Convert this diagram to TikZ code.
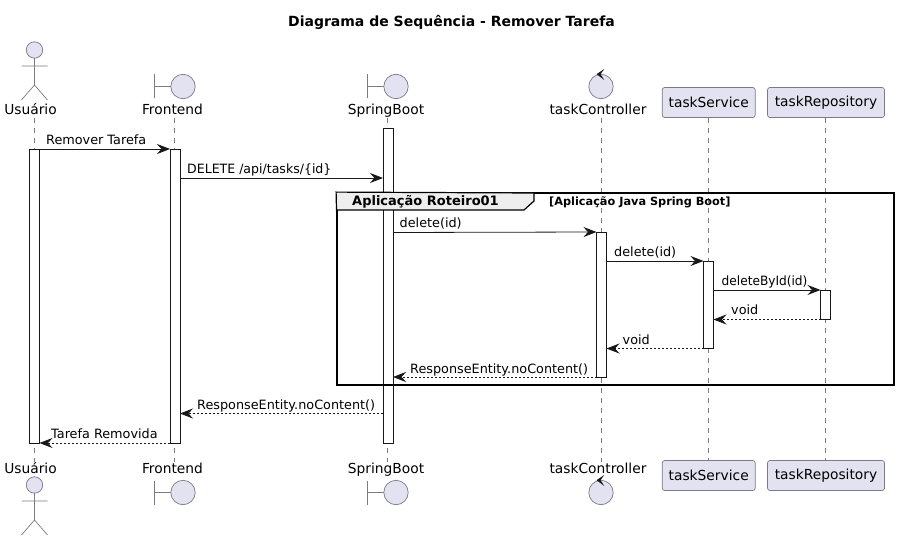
\documentclass[tikz,border=0pt]{standalone}
\usepackage{fontspec}
\setmainfont{DejaVu Sans}
\usetikzlibrary{arrows.meta,positioning}
\definecolor{partfill}{HTML}{E2E2F0}
\definecolor{partline}{HTML}{7B7B85}
\definecolor{ink}{HTML}{181818}
\definecolor{tabfill}{HTML}{EEEEEE}

\begin{document}
\begin{tikzpicture}[
  x=1pt, y=-1pt,
  lbl/.style={anchor=base, inner sep=0pt, outer sep=0pt, text depth=3pt, text height=11pt, font=\fontsize{13.8}{16}\selectfont, text=black},
  msglbl/.style={anchor=base west, inner sep=0pt, font=\fontsize{12.8}{15}\selectfont, text=black},
  partbox/.style={draw=partline, fill=partfill, rounded corners=2.5pt, line width=0.7pt, inner sep=0pt, minimum height=30pt, font=\fontsize{13.8}{16}\selectfont},
  actbar/.style={draw=ink, fill=white, line width=0.8pt, inner sep=0pt, outer sep=0pt, minimum width=10pt},
  lifeline/.style={draw=partline, line width=0.7pt, dash pattern=on 5pt off 5pt},
  call/.style={draw=ink, line width=0.8pt, -{Stealth[length=13pt,width=10pt,inset=4.5pt]}},
  reply/.style={call, dash pattern=on 2pt off 2pt},
  actorfig/.pic={
    \draw[draw=partline, fill=partfill, line width=0.7pt] (0,0) circle (8.2);
    \draw[draw=partline, line width=0.7pt] (0,8.2) -- (0,35) (-13,16) -- (13,16) (-13,50) -- (0,35) -- (13,50);
  },
  boundaryfig/.pic={
    \draw[draw=partline, line width=0.7pt] (-28.5,-12) -- (-28.5,12) (-28.5,0) -- (-12,0);
    \draw[draw=partline, fill=partfill, line width=0.7pt] (0,0) circle (12.2);
  },
  controlfig/.pic={
    \draw[draw=partline, fill=partfill, line width=0.7pt] (0,0) circle (12.2);
    \fill[ink] (-4.5,-12.3) -- (3.3,-17.5) -- (-0.5,-12.3) -- (3.3,-6.5) -- cycle;
  }
]
\useasboundingbox[fill=white] (0,0) rectangle (899,540);
\node[font=\fontsize{14}{16}\selectfont\bfseries, anchor=base, inner sep=0pt] (title) at (451.5,27) {Diagrama de Sequência - Remover Tarefa};

\pic at (34.5,50) {actorfig};
\pic at (183,86.5) {boundaryfig};
\pic at (396,86.5) {boundaryfig};
\pic at (601,86.5) {controlfig};
\pic at (34.5,485) {actorfig};
\pic at (183,492.5) {boundaryfig};
\pic at (396,492.5) {boundaryfig};
\pic at (601,492.5) {controlfig};

\node[lbl] (lblUserTop) at (30.5,115) {Usuário};
\node[lbl] (lblFrontTop) at (172.5,115) {Frontend};
\node[lbl] (lblSpringTop) at (386,115) {SpringBoot};
\node[lbl] (lblCtrlTop) at (598,115) {taskController};
\node[partbox, minimum width=93pt] (boxServiceTop) at (708.7,102.5) {taskService};
\node[partbox, minimum width=117pt] (boxRepoTop) at (826,102.5) {taskRepository};
\node[lbl] (lblUserBot) at (30.5,473) {Usuário};
\node[lbl] (lblFrontBot) at (172.5,473) {Frontend};
\node[lbl] (lblSpringBot) at (386,473) {SpringBoot};
\node[lbl] (lblCtrlBot) at (598,473) {taskController};
\node[partbox, minimum width=93pt] (boxServiceBot) at (708.7,475.5) {taskService};
\node[partbox, minimum width=117pt] (boxRepoBot) at (826,475.5) {taskRepository};

\coordinate (lineUser) at (34.5,0);
\coordinate (lineFront) at (174,0);
\coordinate (lineSpring) at (387.5,0);
\coordinate (lineCtrl) at (601,0);
\coordinate (lineService) at (708.5,0);
\coordinate (lineRepo) at (825.5,0);
\draw[lifeline] (lineUser |- lblUserTop.south) -- (lineUser |- lblUserBot.north);
\draw[lifeline] (lineFront |- lblFrontTop.south) -- (lineFront |- lblFrontBot.north);
\draw[lifeline] (lineSpring |- lblSpringTop.south) -- (lineSpring |- lblSpringBot.north);
\draw[lifeline] (lineCtrl |- lblCtrlTop.south) -- (lineCtrl |- lblCtrlBot.north);
\draw[lifeline] (lineService |- boxServiceTop.south) -- (lineService |- boxServiceBot.north);
\draw[lifeline] (lineRepo |- boxRepoTop.south) -- (lineRepo |- boxRepoBot.north);

\node[actbar, minimum height=294pt] (actUser) at (34.5,296) {};
\node[actbar, minimum height=294pt] (actFront) at (175,296) {};
\node[actbar, minimum height=315pt] (actSpring) at (388,285.5) {};
\node[actbar, minimum height=145pt] (actCtrl) at (601.5,304.5) {};
\node[actbar, minimum height=87.5pt] (actService) at (708.5,304.75) {};
\node[actbar, minimum height=29.5pt] (actRepo) at (825.5,304.75) {};

\node[draw=black, line width=1.8pt, inner sep=0pt, minimum width=557pt, minimum height=192pt] (groupFrame) at (615.5,289) {};
\draw[draw=black, fill=tabfill, line width=1.2pt] (groupFrame.north west) -- (534,193) -- (534,201) -- (524,210) -- (336.5,210) -- cycle;
\node[font=\fontsize{13}{15}\selectfont\bfseries, anchor=base west, inner sep=0pt] (groupName) at (352,206) {Aplicação Roteiro01};
\node[font=\fontsize{11.3}{13}\selectfont\bfseries, anchor=base west, inner sep=0pt] (groupNote) at (549,206) {[Aplicação Java Spring Boot]};

\draw[call] (actUser.north east) -- (actFront.north west);
\draw[call] (actFront.east |- 0,178) -- (actSpring.west |- 0,178);
\draw[call] (actSpring.east |- 0,232.5) -- (actCtrl.north west);
\draw[call] (actCtrl.east |- 0,261) -- (actService.north west);
\draw[call] (actService.east |- 0,290) -- (actRepo.north west);
\draw[reply] (actRepo.south west) -- (actService.east |- actRepo.south west);
\draw[reply] (actService.south west) -- (actCtrl.east |- actService.south west);
\draw[reply] (actCtrl.south west) -- (actSpring.east |- actCtrl.south west);
\draw[reply] (actSpring.west |- 0,413.5) -- (actFront.east |- 0,413.5);
\draw[reply] (actFront.south west) -- (actUser.south east);

\node[msglbl] (msgRemover) at (46,145) {Remover Tarefa};
\node[msglbl, xscale=0.98] (msgDelete) at (187,174) {DELETE /api/tasks/\{id\}};
\node[msglbl] (msgCtrl) at (399.5,227.5) {delete(id)};
\node[msglbl] (msgService) at (614,256.5) {delete(id)};
\node[msglbl, xscale=0.95] (msgRepo) at (721.5,285.5) {deleteById(id)};
\node[msglbl] (msgVoidRepo) at (731,314.5) {void};
\node[msglbl] (msgVoidService) at (622.5,344) {void};
\node[msglbl] (msgRespCtrl) at (410,373) {ResponseEntity.noContent()};
\node[msglbl] (msgRespSpring) at (197,409) {ResponseEntity.noContent()};
\node[msglbl] (msgRemovida) at (51,438.5) {Tarefa Removida};
\end{tikzpicture}
\end{document}
